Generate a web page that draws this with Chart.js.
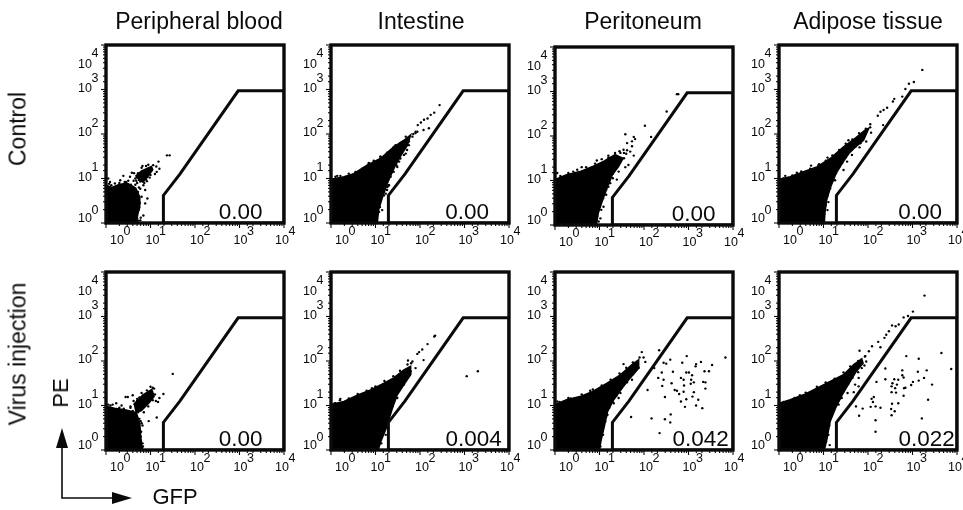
<!DOCTYPE html>
<html><head><meta charset="utf-8">
<script src="https://cdn.jsdelivr.net/npm/chart.js@4"></script>
<style>
html,body{margin:0;padding:0;background:#fff;width:963px;height:510px;overflow:hidden;font-family:"Liberation Sans",Arial,sans-serif;color:#0a0a0a}
canvas{position:absolute}
.t{position:absolute;white-space:nowrap;line-height:1;transform:translate(-50%,-50%);will-change:transform}
.r{transform:translate(-50%,-50%) rotate(-90deg)}
svg{position:absolute;left:0;top:0}
</style></head><body>
<script>
// All point values are log10(value) pairs: [GFP decade, PE decade]
const columnTitles = ["Peripheral blood","Intestine","Peritoneum","Adipose tissue"];
const rowTitles = ["Control","Virus injection"];
const decadeTicks = [0,1,2,3,4];
const gate = [[1.29,0],[1.29,.62],[1.66,1.10],[2.97,2.97],[4,2.97],[4,0],[1.29,0]];
const percentages = ["0.00","0.00","0.00","0.00","0.00","0.004","0.042","0.022"];

const controlBloodMass = [[[0,0],[0,.85],[.13,.8],[.28,.86],[.47,.9],[.58,.84],[.67,.78],[.75,.6],[.76,.4],[.72,.22],[.68,0]],
  [[.66,1.05],[.8,1.17],[1.02,1.27],[1.05,1.2],[.93,1.03],[.83,.92],[.72,.97]]];
const controlBloodDots = [[1.37,1.52],[1.43,1.52],[1.18,1.38],[1.2,1.22],[1.14,1.15],[1.1,1.1],[1.13,1.27],[.58,1.13],[.39,1.06],[.32,.96],[.2,.89],[.93,.55],[.88,.44],[.84,.17],[.77,.06],[.8,.59],[.73,.51],[.05,1.0],[.09,.92],[.54,1.04],[.77,.77],[.88,.74],[.84,.85],[.74,.3],[.72,.7],[.66,.86],[.62,.95],[.7,.9],[.5,.95],[.78,.12],[.7,.1],[.76,.45],[.63,1.12],[.72,1.12],[.8,1.24],[.9,1.28],[.98,1.02],[1.06,1.3],[.9,.98],[.77,.93],[.42,.92],
  [.72,.6],[.74,.8],[.64,.72],[.56,.86],[.45,.92],[.3,.9],[.12,.85],[.07,.88],[.75,.35],[.66,.15],[.72,.05],[.66,1.0],[.7,1.03],[.78,1.08],[.85,1.15],[.95,1.22],[1.02,1.18],[1.0,1.08],[.92,.94],[.86,.9],[.75,1.02],[.82,1.28],[.95,1.31],[.75,.98],[.68,.95]];

const controlIntestineMass = [[[0,0],[0,.98],[.29,1.04],[.51,1.11],[.81,1.3],[1.11,1.45],[1.41,1.71],[1.64,1.86],[1.79,1.98],[1.72,1.75],[1.58,1.53],[1.43,1.26],[1.28,.92],[1.16,.59],[1.07,.29],[1.04,0]]];
const controlIntestineDots = [[2.44,2.65],[2.32,2.48],[2.24,2.43],[2.17,2.35],[2.09,2.32],[2.02,2.26],[1.95,2.2],[1.9,2.05],[2.2,2.13],[2.08,2.09],[1.68,1.56],[1.49,1.26],[1.3,.85],[1.26,.74],[1.15,.29],[1.08,.25],[.14,1.06],[.85,1.35],[1.11,1.49],[1.45,1.75],[1.85,2.0],[1.75,1.75],[1.6,1.6],[1.42,1.4],
  [1.05,.25],[1.1,.36],[1.19,.62],[1.27,.81],[1.23,.66],[1.3,.85],[1.34,1.04],[1.41,1.15],[1.47,1.3],[1.53,1.38],[1.56,1.45],[1.64,1.53],[1.71,1.64],[1.68,1.75],[1.75,1.83],[1.83,1.94],[1.9,2.02],[1.94,2.05],[.1,1.04],[.21,1.06],[.4,1.11],[.55,1.15],[.7,1.22],[.85,1.34],[.96,1.4],[1.11,1.49],[1.26,1.58],[1.41,1.71],[1.56,1.8],[1.68,1.94]];

const controlPeritoneumMass = [[[0,0],[0,1.02],[.26,1.13],[.56,1.2],[.86,1.32],[1.09,1.43],[1.35,1.58],[1.53,1.5],[1.43,1.32],[1.29,1.13],[1.18,.86],[1.07,.56],[.97,.26],[.93,0]]];
const controlPeritoneumDots = [[2.74,2.94],[2.77,2.94],[2.51,2.55],[2.02,2.23],[2.16,1.98],[1.58,2.04],[1.77,1.98],[1.8,1.93],[1.73,1.88],[1.62,1.84],[1.73,1.77],[1.62,1.68],[1.69,1.65],[1.54,1.69],[1.47,1.62],[1.77,1.56],[1.65,1.35],[1.58,1.3],[1.43,1.2],[1.39,1.02],[1.2,1.56],[.94,1.45],[.6,1.3],[.05,1.17],[.41,1.2],[1.09,.41],[1.02,.15],[.98,.08],[1.15,.68],[1.2,.86],[1.24,.94],[1.3,1.05],[1.04,.34],[1.47,1.43],[1.32,1.24],
  [.95,.2],[1.0,.4],[1.08,.6],[1.15,.8],[1.22,1.0],[1.3,1.15],[1.35,1.3],[1.45,1.4],[1.55,1.5],[1.6,1.6],[.12,1.1],[.3,1.17],[.5,1.24],[.7,1.3],[.9,1.38],[1.05,1.48],[1.2,1.52],[1.35,1.62],[1.45,1.66],[1.55,1.62]];

const controlAdiposeMass = [[[0,0],[0,.98],[.25,1.04],[.55,1.15],[.85,1.26],[1.15,1.45],[1.45,1.71],[1.71,1.9],[1.94,2.09],[2.02,2.13],[1.9,1.86],[1.72,1.71],[1.57,1.56],[1.42,1.34],[1.28,1.11],[1.16,.81],[1.07,.51],[1.03,.21],[1.02,0]]];
const controlAdiposeDots = [[3.22,3.44],[3.03,3.17],[2.92,3.13],[2.84,3.01],[2.77,2.84],[2.59,2.79],[2.56,2.73],[2.43,2.59],[2.35,2.54],[2.28,2.5],[2.22,2.41],[2.34,2.2],[2.05,2.22],[2.07,2.03],[1.96,1.83],[1.83,1.79],[1.81,1.7],[1.64,1.53],[1.53,1.38],[1.45,1.19],[1.26,.96],[1.11,.47],[1.09,.29],[1.04,.66],[.72,1.29],[.89,1.3],[1.09,1.47],[1.56,1.86],[.4,1.13],[.14,1.06],
  [1.02,.2],[1.05,.4],[1.08,.6],[1.15,.78],[1.2,.95],[1.28,1.12],[1.35,1.25],[1.42,1.35],[1.5,1.48],[1.6,1.62],[1.72,1.72],[1.8,1.82],[1.9,1.92],[.1,1.0],[.3,1.07],[.5,1.16],[.7,1.22],[.9,1.32],[1.05,1.4],[1.2,1.52],[1.35,1.64],[1.5,1.78],[1.65,1.88],[1.8,2.02],[1.95,2.12],[2.05,2.15]];

const virusBloodMass = [[[0,0],[0,.98],[.19,.94],[.45,.9],[.68,.84],[.76,.6],[.78,.3],[.82,0]],
  [[.62,1.02],[.83,1.24],[1.03,1.36],[1.08,1.2],[.96,1.05],[.79,.88],[.66,.85]]];
const virusBloodDots = [[1.5,1.71],[1.29,1.26],[1.2,1.17],[1.17,1.08],[1.14,.73],[.96,.65],[.23,1.05],[.44,1.19],[.49,1.19],[.6,1.23],[.15,1.02],[.71,.71],[.79,.41],[.83,.08],[.82,.55],[.78,.65],[.55,.98],[.35,1.0],[.7,1.1],[.75,1.18],[1.12,1.1],[1.08,1.38],[1.0,1.42],
  [.72,.85],[.68,.95],[.6,.88],[.75,.7],[.8,.6],[.72,.5],[.78,.3],[.82,.15],[.76,.05],[.3,.95],[.1,1.0],[.05,1.02],[.4,.93],[.55,.95],[.62,1.1],[.7,1.15],[.8,1.28],[.92,1.34],[1.05,1.4],[1.1,1.25],[1.05,1.12],[.95,.98],[.85,.85],[.72,.93],[.75,1.05]];

const virusIntestineMass = [[[0,0],[0,1.02],[.29,1.09],[.59,1.23],[.89,1.35],[1.19,1.5],[1.41,1.62],[1.64,1.8],[1.79,1.88],[1.79,1.69],[1.64,1.47],[1.49,1.24],[1.38,.94],[1.24,.49],[1.12,.19],[1.06,0]]];
const virusIntestineDots = [[3.05,1.66],[3.3,1.77],[2.34,2.57],[2.32,2.55],[2.17,2.38],[2.05,2.26],[1.98,2.2],[1.94,2.16],[2.08,2.02],[1.9,1.84],[1.83,1.99],[1.73,2.01],[.21,1.15],[.1,1.05],[.7,1.26],[.92,1.39],[1.23,.34],[1.13,.15],[1.38,.98],[1.49,1.17],[1.64,1.47],[1.79,1.77],
  [1.05,.1],[1.12,.3],[1.2,.55],[1.28,.75],[1.37,1.0],[1.42,1.15],[1.5,1.3],[1.58,1.42],[1.68,1.58],[1.78,1.72],[.08,1.05],[.2,1.12],[.4,1.16],[.6,1.26],[.8,1.33],[1.0,1.43],[1.2,1.55],[1.4,1.66],[1.55,1.78],[1.72,1.92],[1.8,1.95]];

const virusPeritoneumMass = [[[0,0],[0,1.02],[.26,1.13],[.56,1.2],[.86,1.32],[1.17,1.5],[1.47,1.69],[1.73,1.92],[1.88,2.03],[1.88,1.84],[1.69,1.62],[1.51,1.39],[1.32,1.13],[1.18,.86],[1.1,.49],[1.03,.19],[1,0]]];
const virusPeritoneumDots = [[3.83,2.08],[3.53,1.91],[3.46,1.77],[3.36,1.77],[3.28,1.98],[3.17,1.93],[3.16,1.88],[2.96,2.11],[2.86,1.96],[2.59,2.03],[2.5,1.94],[2.44,1.96],[2.34,2.24],[2.23,1.84],[2.4,1.74],[2.65,1.76],[2.32,1.62],[2.44,1.58],[2.62,1.5],[2.41,1.44],[2.08,1.35],[2.69,1.35],[2.74,1.33],[2.79,1.26],[2.47,1.19],[2.83,1.62],[2.89,1.58],[2.95,1.74],[3.01,1.74],[3.08,1.68],[3.06,1.58],[3.12,1.52],[3.05,1.49],[2.9,1.45],[2.89,1.31],[3.12,1.3],[3.09,1.2],[3.22,1.13],[3.17,1.0],[3.31,.94],[3.38,1.52],[3.33,1.53],[3.38,1.38],[2.95,1.14],[2.83,1.09],[2.92,.97],[2.6,.8],[2.47,.69],[2.59,.62],[2.17,.71],[1.71,.74],[2.35,.38],
  [1.95,2.2],[1.99,2.08],[2.03,1.98],[1.8,1.77],[1.73,1.58],[1.54,1.93],[1.47,1.28],[1.43,1.17],[1.32,1.05],[.79,1.33],[.3,1.17],[.05,1.09],[1.02,.08],[1.08,.34],[1.18,.79],[1.13,.64],
  [.98,.1],[1.02,.3],[1.08,.5],[1.15,.75],[1.22,.95],[1.3,1.1],[1.38,1.22],[1.5,1.4],[1.62,1.52],[1.75,1.7],[1.88,1.85],[.1,1.08],[.35,1.16],[.6,1.25],[.85,1.36],[1.05,1.45],[1.25,1.58],[1.45,1.72],[1.6,1.85],[1.75,1.97],[1.9,2.08]];

const virusAdiposeMass = [[[0,0],[0,1.05],[.25,1.13],[.55,1.24],[.85,1.39],[1.15,1.54],[1.45,1.69],[1.68,1.92],[1.86,2.05],[1.89,1.95],[1.74,1.77],[1.6,1.54],[1.42,1.24],[1.27,.94],[1.15,.64],[1.08,.26],[1.02,0]]];
const virusAdiposeDots = [[3.27,3.47],[3.01,3.11],[2.9,3.01],[2.8,2.98],[2.69,2.82],[2.62,2.78],[2.54,2.8],[2.47,2.67],[2.41,2.59],[2.37,2.52],[2.23,2.43],[2.28,2.31],[2.09,2.33],[2.02,2.22],[1.94,2.11],[1.81,2.23],[1.96,1.99],[1.86,1.84],[1.79,1.62],[1.71,1.47],[1.79,1.43],[1.68,1.3],[1.54,1.28],[1.41,1.17],[1.34,1.02],[.47,1.23],[1.11,.34],[1.14,.11],[1.06,.19],
  [3.65,2.18],[3.87,1.82],[3.14,2.05],[2.86,2.11],[3.32,1.79],[3.12,1.76],[3.26,1.62],[3.14,1.56],[3.01,1.53],[2.97,1.46],[3.44,1.47],[3.35,1.13],[3.21,.71],[2.77,1.79],[2.77,1.68],[2.8,1.63],[2.81,1.39],[2.84,1.4],[2.8,1.22],[2.68,1.58],[2.65,1.47],[2.59,1.59],[2.55,1.5],[2.53,1.43],[2.61,1.39],[2.53,1.3],[2.63,1.29],[2.39,1.83],[2.39,1.59],[2.19,1.53],[2.13,1.19],[2.08,1.15],[2.11,1.08],[2.17,.98],[2.06,.97],[2.28,.95],[1.88,.93],[1.73,.98],[1.8,.77],[2.54,1.04],[2.68,1.05],[2.52,.92],[2.6,.87],[2.53,.78],[2.17,.67],[2.17,.41],
  [1.01,.1],[1.07,.3],[1.13,.55],[1.18,.8],[1.28,1.0],[1.36,1.15],[1.45,1.32],[1.55,1.48],[1.65,1.62],[1.78,1.75],[1.92,1.9],[.1,1.08],[.35,1.17],[.6,1.29],[.85,1.42],[1.05,1.52],[1.25,1.6],[1.45,1.74],[1.6,1.88],[1.78,2.0],[1.93,2.1]];

const panelMasses = [controlBloodMass,controlIntestineMass,controlPeritoneumMass,controlAdiposeMass,virusBloodMass,virusIntestineMass,virusPeritoneumMass,virusAdiposeMass];
const panelDots = [controlBloodDots,controlIntestineDots,controlPeritoneumDots,controlAdiposeDots,virusBloodDots,virusIntestineDots,virusPeritoneumDots,virusAdiposeDots];

// layout (page pixels), kept apart from the data
const plotLefts = [106,331,555,779], plotTops = [[45,45,47,45],[271.5,271.5,271.5,271.5]];
const plotW = 178, plotH = 178, padL = 34, padR = 12, padT = 8, padB = 30;
const xLabelNudge = [11,2,2,1,-2], yLabelNudge = [-4.5,-1,-1,-1,20], ySupNudge = [-12.5,-10.5,-10.5,-10.5,9];
const pctRightGap = [21.5,20,17.5,15,21.5,7.3,4.3,2.3];
const ink = "#0a0a0a", fontFam = '"Liberation Sans",Arial,sans-serif';
const toVal = pts => pts.map(([x,y]) => ({x:10**x, y:10**y}));

const decor = {
  id:"decor",
  afterDatasetsDraw(c, a, o){
    const ctx=c.ctx, {left,right,top,bottom}=c.chartArea, X=c.scales.x, Y=c.scales.y;
    ctx.save(); ctx.strokeStyle=ink; ctx.fillStyle=ink;
    ctx.lineWidth=3.4; ctx.strokeRect(left,top,right-left,bottom-top);
    ctx.lineWidth=1.1;
    const isMajor=v=>Math.abs(Math.log10(v)-Math.round(Math.log10(v)))<1e-6;
    X.ticks.forEach(t=>{const p=X.getPixelForValue(t.value),l=isMajor(t.value)?5:3;ctx.beginPath();ctx.moveTo(p,bottom);ctx.lineTo(p,bottom+l);ctx.stroke();});
    Y.ticks.forEach(t=>{const p=Y.getPixelForValue(t.value),l=isMajor(t.value)?5:3;ctx.beginPath();ctx.moveTo(left,p);ctx.lineTo(left-l,p);ctx.stroke();});
    ctx.font="12.5px "+fontFam; ctx.textAlign="center"; ctx.textBaseline="middle";
    decadeTicks.forEach((d,i)=>{
      const px=X.getPixelForValue(10**d)+xLabelNudge[i];
      ctx.fillText("10",px,bottom+18); ctx.fillText(String(d),px+10,bottom+9);
      const py=Y.getPixelForValue(10**d);
      ctx.fillText("10",left-21,py+yLabelNudge[i]); ctx.fillText(String(d),left-11,py+ySupNudge[i]);
    });
    ctx.font="22.5px "+fontFam; ctx.textAlign="right"; ctx.textBaseline="alphabetic";
    ctx.fillText(o.pct,right-o.gap,bottom-4);
    ctx.restore();
  }
};

panelMasses.forEach((masses,i)=>{
  const col=i%4,row=i>>2;
  const cv=document.createElement("canvas");
  const w=plotW+padL+padR,h=plotH+padT+padB;
  cv.width=w;cv.height=h;
  cv.style.left=(plotLefts[col]-padL)+"px";cv.style.top=(plotTops[row][col]-padT)+"px";
  cv.style.width=w+"px";cv.style.height=h+"px";
  document.body.appendChild(cv);
  const hidden={grid:{display:false},border:{display:false},ticks:{display:false,autoSkip:false}};
  new Chart(cv,{
    type:"scatter",
    data:{datasets:[
      ...masses.map(m=>({data:toVal(m),showLine:true,fill:"shape",backgroundColor:"#000",borderColor:"#000",borderWidth:1.5,pointRadius:0,order:3})),
      {data:toVal(panelDots[i]),backgroundColor:"#000",borderWidth:0,pointRadius:1.2,pointStyle:"circle",order:2},
      {data:toVal(gate),showLine:true,fill:false,borderColor:ink,borderWidth:3,pointRadius:0,order:1}
    ]},
    options:{responsive:false,animation:false,devicePixelRatio:1,
      layout:{padding:{left:padL,right:padR,top:padT,bottom:padB}},
      plugins:{legend:{display:false},tooltip:{enabled:false},decor:{pct:percentages[i],gap:pctRightGap[i]}},
      scales:{
        x:{type:"logarithmic",min:1,max:10000,...hidden,afterFit(s){s.height=0;}},
        y:{type:"logarithmic",min:1,max:10000,...hidden,afterFit(s){s.width=0;}}
      }
    },
    plugins:[decor]
  });
});

function addText(s,x,y,size,rot){
  const d=document.createElement("div");d.className="t"+(rot?" r":"");d.textContent=s;
  d.style.left=x+"px";d.style.top=y+"px";d.style.fontSize=size+"px";document.body.appendChild(d);
}
[199,421,643,868].forEach((x,i)=>addText(columnTitles[i],x,21,23));
addText(rowTitles[0],18,129,23,true);
addText(rowTitles[1],18,354,23,true);
addText("PE",61,393,22,true);
addText("GFP",175,497,22);
document.body.insertAdjacentHTML("beforeend",'<svg width="963" height="510"><path d="M62 447V498H113" fill="none" stroke="#0a0a0a" stroke-width="1.6"/><path d="M62 428L68 448H56Z M132 498L112 492V504Z" fill="#0a0a0a"/></svg>');
</script>
</body></html>
